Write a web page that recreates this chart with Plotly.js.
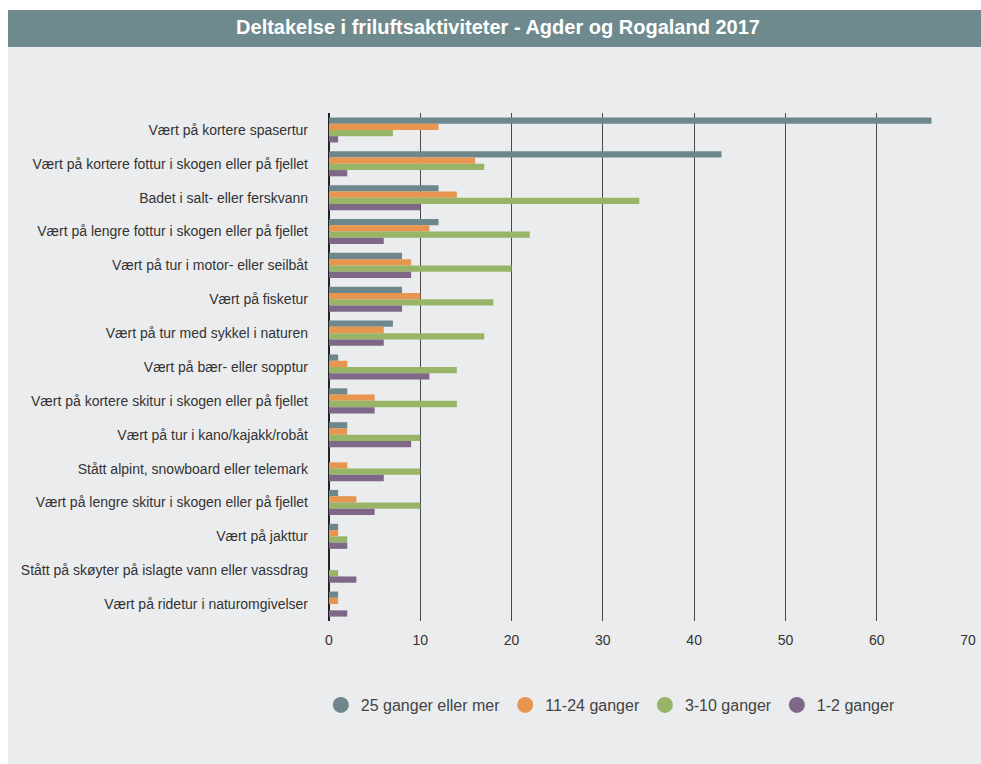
<!DOCTYPE html>
<html>
<head>
<meta charset="utf-8">
<script src="https://cdn.plot.ly/plotly-3.0.1.min.js"></script>
<style>html,body{margin:0;padding:0;background:#fff;}#chart{width:981px;height:764px;}</style>
</head>
<body>
<div id="chart"></div>
<script>
const categories = [
  "Vært på kortere spasertur",
  "Vært på kortere fottur i skogen eller på fjellet",
  "Badet i salt- eller ferskvann",
  "Vært på lengre fottur i skogen eller på fjellet",
  "Vært på tur i motor- eller seilbåt",
  "Vært på fisketur",
  "Vært på tur med sykkel i naturen",
  "Vært på bær- eller sopptur",
  "Vært på kortere skitur i skogen eller på fjellet",
  "Vært på tur i kano/kajakk/robåt",
  "Stått alpint, snowboard eller telemark",
  "Vært på lengre skitur i skogen eller på fjellet",
  "Vært på jakttur",
  "Stått på skøyter på islagte vann eller vassdrag",
  "Vært på ridetur i naturomgivelser"
];
const seriesNames = ["25 ganger eller mer", "11-24 ganger", "3-10 ganger", "1-2 ganger"];
const ganger25pluss = [66, 43, 12, 12, 8, 8, 7, 1, 2, 2, 0, 1, 1, 0, 1];
const ganger11til24 = [12, 16, 14, 11, 9, 10, 6, 2, 5, 2, 2, 3, 1, 0, 1];
const ganger3til10  = [7, 17, 34, 22, 20, 18, 17, 14, 14, 10, 10, 10, 2, 1, 0];
const ganger1til2   = [1, 2, 10, 6, 9, 8, 6, 11, 5, 9, 6, 5, 2, 3, 2];
const xTicks = [0, 10, 20, 30, 40, 50, 60, 70];

const colors = ["#6d878d", "#e8954f", "#97b467", "#7e6787"];
const values = [ganger25pluss, ganger11til24, ganger3til10, ganger1til2];

const traces = [];
values.forEach((v, i) => {
  traces.push({
    type: "bar", orientation: "h",
    x: v, y: categories, name: seriesNames[i],
    marker: {color: colors[i]}, showlegend: false, hoverinfo: "skip"
  });
});
values.forEach((v, i) => {
  traces.push({
    type: "scatter", mode: "markers",
    x: [null], y: [null], name: seriesNames[i],
    marker: {color: colors[i], size: 17, symbol: "circle"}, showlegend: true
  });
});

const W = 981, H = 764, L = 329, R = 13, T = 113, B = 143;
const pw = W - L - R, ph = H - T - B;
const px = p => (p - L) / pw;
const py = p => (H - B - p) / ph;

const layout = {
  width: W, height: H,
  margin: {l: L, r: R, t: T, b: B, pad: 0},
  paper_bgcolor: "#ffffff",
  plot_bgcolor: "#ebecee",
  font: {family: "Liberation Sans, Arial, sans-serif", color: "#333"},
  title: {
    text: "<b>Deltakelse i friluftsaktiviteter - Agder og Rogaland 2017</b>",
    font: {size: 20, color: "#ffffff", family: "Liberation Sans, Arial, sans-serif"},
    x: 498 / W, xanchor: "center", xref: "container",
    y: 1 - 27 / H, yanchor: "middle", yref: "container"
  },
  barmode: "group", bargap: 0.26, bargroupgap: 0,
  xaxis: {
    range: [0, 70], tickvals: xTicks, ticktext: xTicks.map(String),
    showgrid: true, gridcolor: "#4a4a4a", gridwidth: 1.2,
    zeroline: true, zerolinecolor: "#222", zerolinewidth: 1.5,
    showline: false, ticks: "", ticklabelstandoff: 9,
    tickfont: {size: 14, color: "#333"}, fixedrange: true
  },
  yaxis: {
    type: "category", categoryorder: "array", categoryarray: categories,
    autorange: "reversed", showgrid: false, zeroline: false, showline: false,
    ticks: "", ticklabelstandoff: 20,
    tickfont: {size: 14, color: "#333"}, fixedrange: true
  },
  legend: {
    orientation: "h", x: 0.441, xanchor: "center", y: py(705), yanchor: "middle",
    font: {size: 16, color: "#444"}, bgcolor: "rgba(0,0,0,0)", itemclick: false
  },
  shapes: [
    {type: "rect", xref: "paper", yref: "paper", layer: "below",
     x0: px(8), x1: px(W + 5), y0: py(H + 5), y1: py(47),
     fillcolor: "#ebecee", line: {width: 0}},
    {type: "rect", xref: "paper", yref: "paper", layer: "below",
     x0: px(8), x1: px(W + 5), y0: py(47), y1: py(10),
     fillcolor: "#6e8a8f", line: {width: 0}}
  ],
  hovermode: false
};

Plotly.newPlot("chart", traces, layout, {displayModeBar: false, staticPlot: true});
</script>
</body>
</html>
